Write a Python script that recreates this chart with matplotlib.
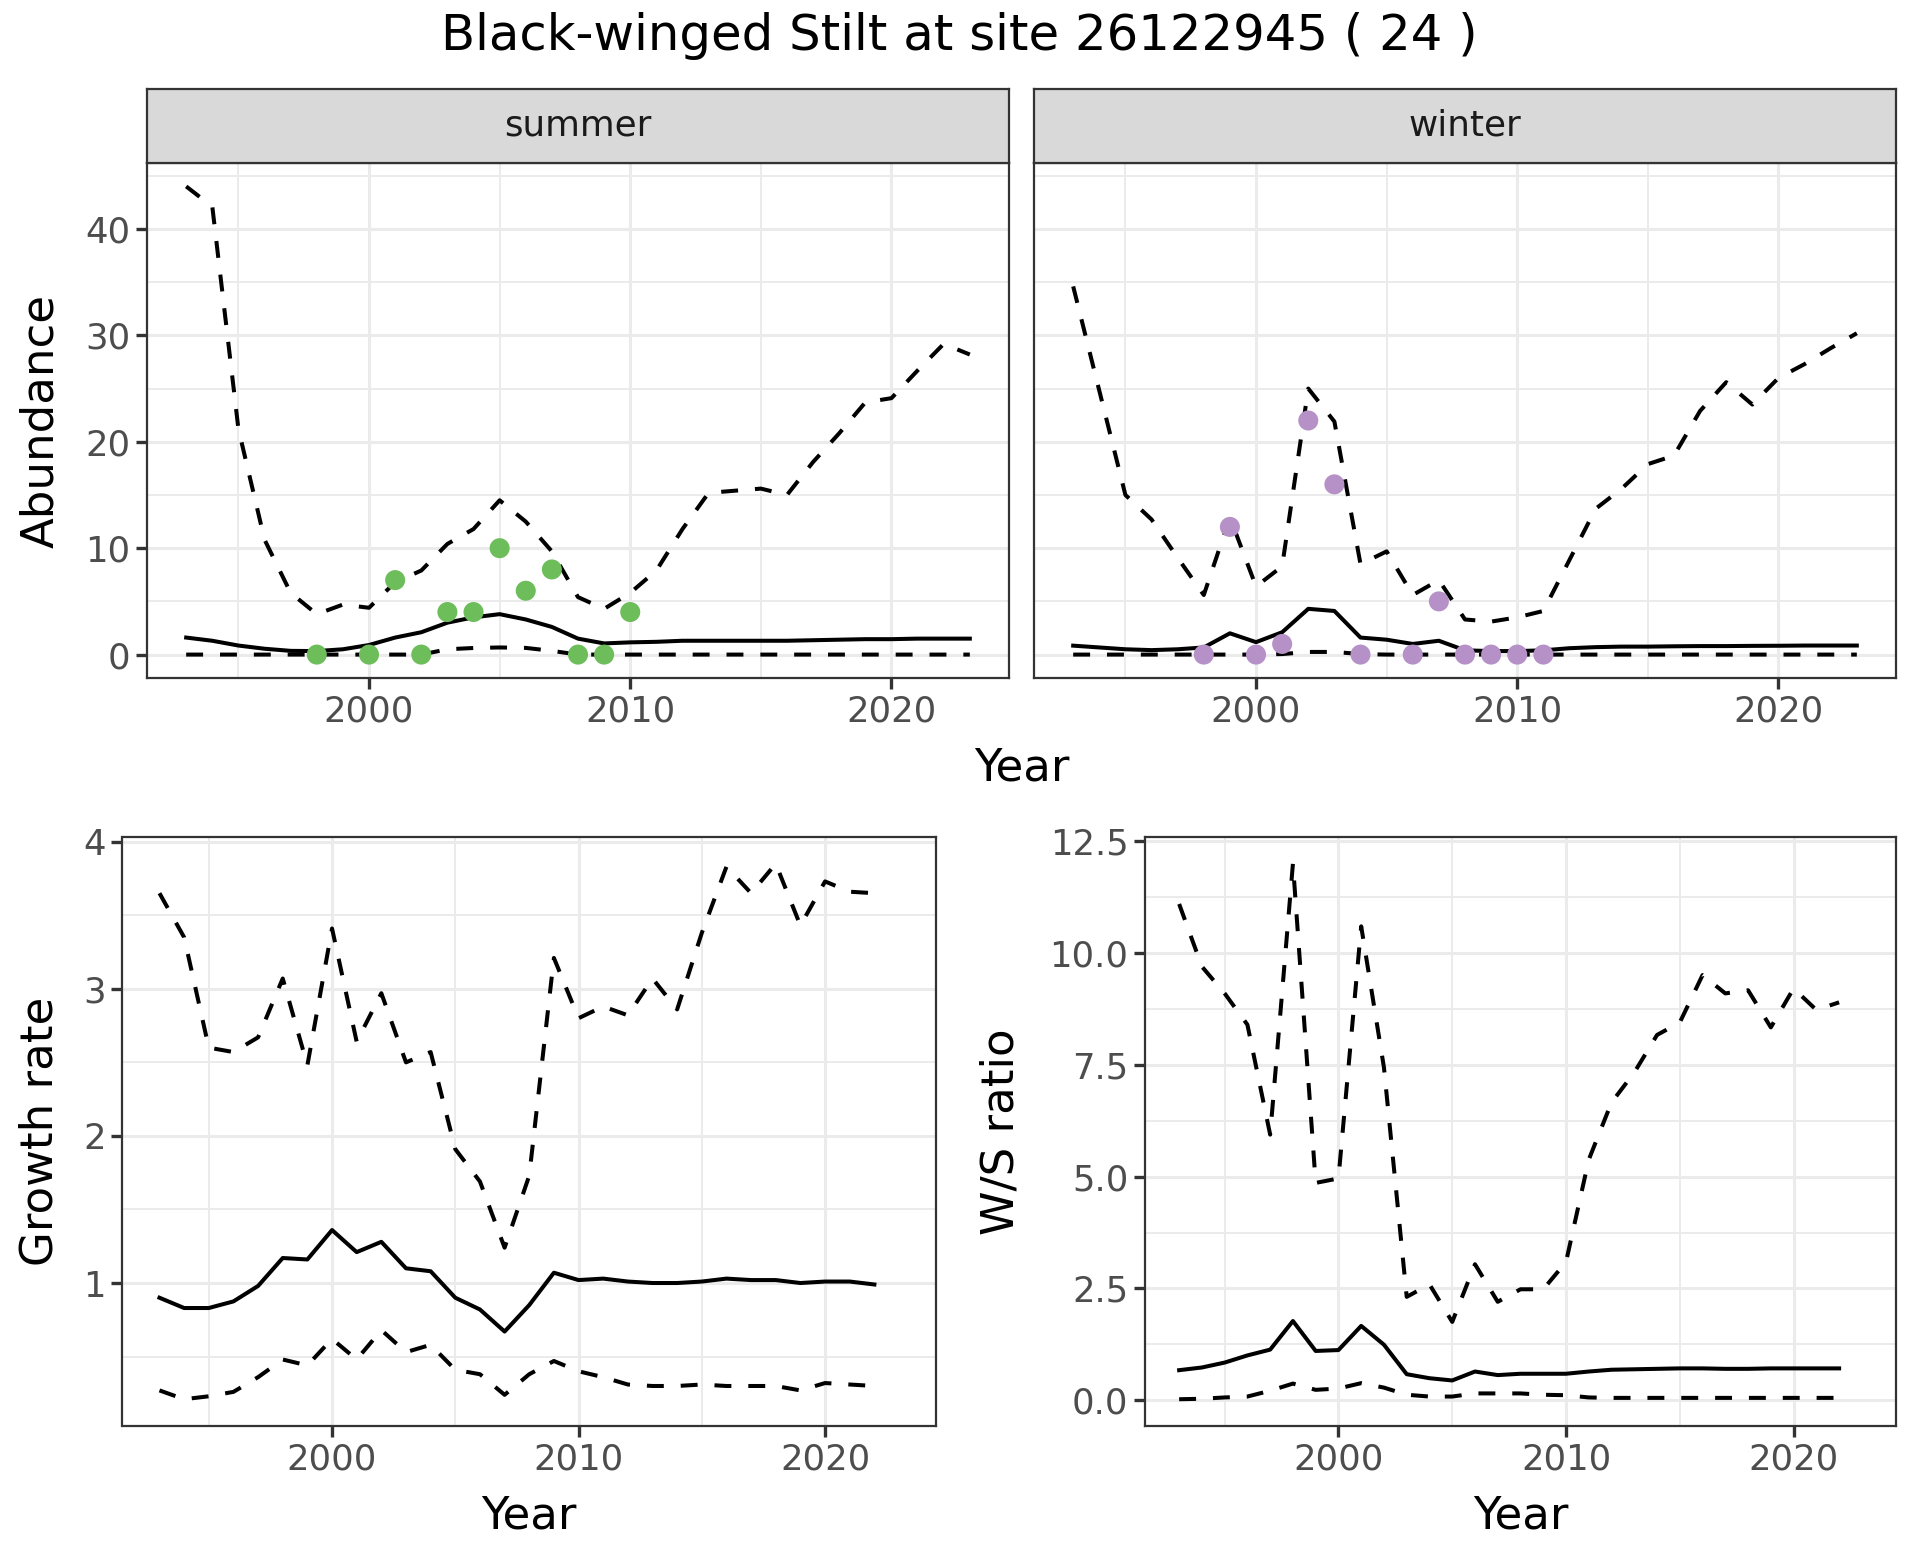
import matplotlib
matplotlib.use("Agg")
import matplotlib.pyplot as plt
from matplotlib.ticker import MultipleLocator, FormatStrFormatter

# years of the modelled series
years = list(range(1993, 2024))
ratio_years = list(range(1993, 2023))

# summer abundance: median and interval bounds
summer_mid = [1.6, 1.3, 0.85, 0.55, 0.35, 0.33, 0.5, 0.9, 1.6, 2.1, 3.0, 3.5, 3.8, 3.3, 2.6, 1.5,
              1.05, 1.15, 1.2, 1.3, 1.3, 1.3, 1.3, 1.3, 1.35, 1.4, 1.45, 1.45, 1.5, 1.5, 1.5]
summer_lo = [0, 0, 0, 0, 0, 0, 0, 0, 0, 0, 0.5, 0.62, 0.67, 0.63, 0.35, 0.0,
             0, 0, 0, 0, 0, 0, 0, 0, 0, 0, 0, 0, 0, 0, 0]
summer_hi = [44.0, 42.1, 21.2, 10.8, 5.8, 3.8, 4.7, 4.4, 6.8, 7.9, 10.4, 11.8, 14.5, 12.5, 9.7, 5.4,
             4.3, 5.8, 7.9, 11.8, 15.2, 15.4, 15.6, 15.0, 18.1, 20.8, 23.7, 24.1, 26.7, 29.2, 28.2]
summer_obs_years = [1998, 2000, 2001, 2002, 2003, 2004, 2005, 2006, 2007, 2008, 2009, 2010]
summer_obs = [0, 0, 7, 0, 4, 4, 10, 6, 8, 0, 0, 4]

# winter abundance
winter_mid = [0.84, 0.67, 0.5, 0.42, 0.5, 0.67, 2.0, 1.17, 2.1, 4.3, 4.1, 1.6, 1.4, 1.0, 1.3, 0.4,
              0.33, 0.33, 0.4, 0.6, 0.7, 0.75, 0.75, 0.78, 0.8, 0.8, 0.82, 0.83, 0.85, 0.85, 0.85]
winter_lo = [0, 0, 0, 0, 0, 0, 0, 0, 0.05, 0.25, 0.25, 0.05, 0, 0, 0, 0,
             0, 0, 0, 0, 0, 0, 0, 0, 0, 0, 0, 0, 0, 0, 0]
winter_hi = [34.6, 24.8, 15.0, 12.7, 9.1, 5.6, 12.9, 6.4, 8.3, 25.0, 21.9, 8.5, 9.7, 5.6, 7.0, 3.3,
             3.1, 3.5, 4.1, 8.9, 13.7, 15.6, 17.9, 18.7, 22.9, 25.6, 23.5, 26.0, 27.3, 28.8, 30.2]
winter_obs_years = [1998, 1999, 2000, 2001, 2002, 2003, 2004, 2006, 2007, 2008, 2009, 2010, 2011]
winter_obs = [0, 12, 0, 1, 22, 16, 0, 0, 5, 0, 0, 0, 0]

# growth rate
growth_mid = [0.90, 0.83, 0.83, 0.875, 0.98, 1.17, 1.16, 1.36, 1.21, 1.28, 1.10, 1.08, 0.90, 0.82, 0.67,
              0.85, 1.07, 1.02, 1.03, 1.01, 1.00, 1.00, 1.01, 1.03, 1.02, 1.02, 1.00, 1.01, 1.01, 0.99]
growth_lo = [0.27, 0.21, 0.23, 0.26, 0.36, 0.48, 0.44, 0.62, 0.48, 0.68, 0.53, 0.58, 0.41, 0.38, 0.24,
             0.38, 0.47, 0.40, 0.36, 0.31, 0.30, 0.30, 0.31, 0.30, 0.30, 0.30, 0.27, 0.32, 0.31, 0.30]
growth_hi = [3.65, 3.35, 2.60, 2.57, 2.67, 3.07, 2.48, 3.41, 2.64, 2.97, 2.50, 2.57, 1.91, 1.69, 1.24,
             1.73, 3.21, 2.80, 2.88, 2.82, 3.07, 2.86, 3.38, 3.83, 3.65, 3.85, 3.43, 3.73, 3.66, 3.65]

# winter / summer ratio
ratio_mid = [0.67, 0.73, 0.84, 1.0, 1.13, 1.77, 1.10, 1.12, 1.66, 1.24, 0.58, 0.49, 0.44, 0.64, 0.56,
             0.59, 0.59, 0.59, 0.64, 0.68, 0.69, 0.70, 0.71, 0.71, 0.70, 0.70, 0.71, 0.71, 0.71, 0.71]
ratio_lo = [0.02, 0.03, 0.06, 0.08, 0.21, 0.37, 0.23, 0.26, 0.38, 0.28, 0.12, 0.08, 0.08, 0.15, 0.15,
            0.15, 0.12, 0.11, 0.06, 0.05, 0.05, 0.05, 0.05, 0.05, 0.05, 0.05, 0.05, 0.05, 0.05, 0.05]
ratio_hi = [11.1, 9.7, 9.1, 8.4, 5.94, 12.0, 4.86, 4.96, 10.6, 7.44, 2.31, 2.59, 1.75, 3.04, 2.20,
            2.48, 2.48, 3.09, 5.38, 6.66, 7.33, 8.17, 8.45, 9.51, 9.10, 9.17, 8.34, 9.21, 8.73, 8.90]

GREEN = "#6DBD5B"
PURPLE = "#B591C7"
DASH = (0, (4.2, 4.2))
LW = 1.45
TICK_SIZE = 12.8
TITLE_SIZE = 16.2

plt.rcParams["font.family"] = ["DejaVu Sans"]


def style_axes(ax, ymajor, yminor, show_y=True):
    ax.set_xlim(1991.5, 2024.5)
    ax.xaxis.set_major_locator(MultipleLocator(10))
    ax.xaxis.set_minor_locator(MultipleLocator(5))
    ax.yaxis.set_major_locator(MultipleLocator(ymajor))
    ax.yaxis.set_minor_locator(MultipleLocator(yminor))
    ax.grid(which="major", color="#EBEBEB", lw=1.1)
    ax.grid(which="minor", color="#EBEBEB", lw=0.7)
    ax.set_axisbelow(True)
    ax.tick_params(which="minor", length=0)
    ax.tick_params(which="major", length=3.9, width=1.2, color="#333333",
                   labelcolor="#4D4D4D", labelsize=TICK_SIZE, pad=2)
    if not show_y:
        ax.tick_params(axis="y", which="both", length=0, labelleft=False)
    for s in ax.spines.values():
        s.set_color("#333333")
        s.set_linewidth(0.8)


def draw_band(ax, x, lo, mid, hi):
    ax.plot(x, hi, color="black", lw=LW, ls=DASH)
    ax.plot(x, lo, color="black", lw=LW, ls=DASH)
    ax.plot(x, mid, color="black", lw=LW)


W, H = 1920, 1560
fig = plt.figure(figsize=(9.6, 7.8), dpi=200)


def frac(left, top, right, bottom):
    return [left / W, 1 - bottom / H, (right - left) / W, (bottom - top) / H]


# top row: facets summer / winter
ab_max = max(max(summer_hi), max(winter_hi))
ab_lim = (0 - 0.05 * ab_max, ab_max * 1.05)

panels = [
    ("summer", 147, 1009, summer_lo, summer_mid, summer_hi, summer_obs_years, summer_obs, GREEN),
    ("winter", 1034, 1896, winter_lo, winter_mid, winter_hi, winter_obs_years, winter_obs, PURPLE),
]
top_axes = []
for i, (name, l, r, lo, mid, hi, oy, ov, col) in enumerate(panels):
    ax = fig.add_axes(frac(l, 163, r, 678))
    draw_band(ax, years, lo, mid, hi)
    ax.scatter(oy, ov, s=52, color=col, edgecolors="none", zorder=4)
    ax.set_ylim(*ab_lim)
    style_axes(ax, 10, 5, show_y=(i == 0))
    top_axes.append(ax)

    strip = fig.add_axes(frac(l, 89, r, 163))
    strip.set_facecolor("#D9D9D9")
    strip.set_xticks([])
    strip.set_yticks([])
    for s in strip.spines.values():
        s.set_color("#333333")
        s.set_linewidth(0.8)
    strip.text(0.5, 0.5, name, ha="center", va="center", fontsize=12.9,
               color="#1A1A1A", transform=strip.transAxes)

top_axes[0].set_ylabel("Abundance", fontsize=TITLE_SIZE)
top_axes[0].yaxis.label.set_va("center")
top_axes[0].yaxis.set_label_coords(-0.1235, 0.5)
fig.text(1021.5 / W, 1 - 768 / H, "Year", ha="center", va="center", fontsize=TITLE_SIZE)

# bottom left: growth rate
ax_g = fig.add_axes(frac(122.5, 837, 936, 1426))
draw_band(ax_g, ratio_years, growth_lo, growth_mid, growth_hi)
g_lo, g_hi = min(growth_lo), max(growth_hi)
ax_g.set_ylim(g_lo - 0.05 * (g_hi - g_lo), g_hi + 0.05 * (g_hi - g_lo))
style_axes(ax_g, 1, 0.5)
ax_g.set_ylabel("Growth rate", fontsize=TITLE_SIZE)
ax_g.yaxis.label.set_va("center")
ax_g.yaxis.set_label_coords(-0.1008, 0.5)
ax_g.set_xlabel("Year", fontsize=TITLE_SIZE)
ax_g.xaxis.label.set_va("center")
ax_g.xaxis.set_label_coords(0.5, -0.153)

# bottom right: W/S ratio
ax_r = fig.add_axes(frac(1145, 837, 1896, 1426))
draw_band(ax_r, ratio_years, ratio_lo, ratio_mid, ratio_hi)
r_lo, r_hi = min(ratio_lo), max(ratio_hi)
ax_r.set_ylim(r_lo - 0.05 * (r_hi - r_lo), r_hi + 0.05 * (r_hi - r_lo))
style_axes(ax_r, 2.5, 1.25)
ax_r.yaxis.set_major_formatter(FormatStrFormatter("%.1f"))
ax_r.set_ylabel("W/S ratio", fontsize=TITLE_SIZE)
ax_r.yaxis.label.set_va("center")
ax_r.yaxis.set_label_coords(-0.1918, 0.5)
ax_r.set_xlabel("Year", fontsize=TITLE_SIZE)
ax_r.xaxis.label.set_va("center")
ax_r.xaxis.set_label_coords(0.5, -0.153)

fig.text(0.4997, 1 - 36 / H, "Black-winged Stilt at site 26122945 ( 24 )",
         ha="center", va="center", fontsize=17.9)

fig.savefig("out.png", dpi=200, facecolor="white")
